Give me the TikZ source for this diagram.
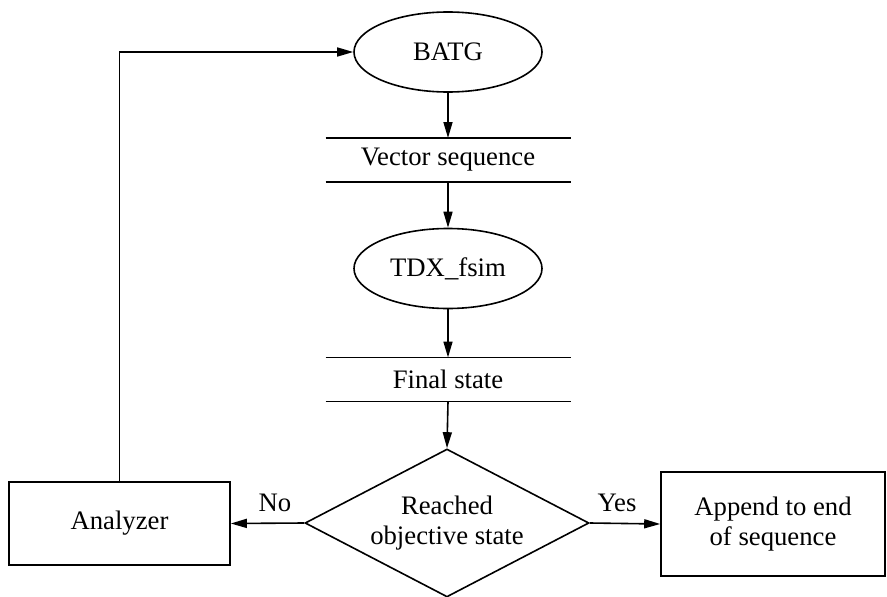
\documentclass[tikz,border=0pt]{standalone}
\usepackage{fontspec}
\setmainfont{Liberation Serif}
\usetikzlibrary{shapes.geometric,arrows.meta}
\begin{document}
\begin{tikzpicture}[x=1pt,y=-1pt,
  every node/.style={font=\fontsize{26.7}{30}\selectfont},
  proc/.style={ellipse,draw,line width=1.6pt,minimum width=188pt,minimum height=80pt,inner sep=0pt},
  store/.style={minimum width=245pt,minimum height=44pt,inner sep=0pt,outer sep=0pt},
  decide/.style={diamond,draw,line width=1.6pt,aspect=1.92,minimum width=284pt,minimum height=148pt,inner sep=0pt,align=center},
  box/.style={rectangle,draw,line width=1.6pt,inner sep=0pt,align=center},
  edge/.style={line width=1.6pt},
  flow/.style={line width=1.6pt,-{Triangle[length=16pt,width=9pt]}},
  lbl/.style={inner sep=0pt}]
\useasboundingbox (0,0) rectangle (887,597);
\node[proc] (batg) at (448,52) {BATG};
\node[store] (vec) at (448,160) {Vector sequence};
\node[proc] (tdx) at (448,268.5) {TDX\_fsim};
\node[store] (fin) at (448,379.5) {Final state};
\node[decide] (dec) at (447,523) {Reached\\objective state};
\node[box, minimum width=221pt, minimum height=83pt] (ana) at (119.5,523.5) {Analyzer};
\node[box, minimum width=224pt, minimum height=104pt] (app) at (773,524) {Append to end\\of sequence};
\draw[edge] (vec.north west) -- (vec.north east);
\draw[edge] (vec.south west) -- (vec.south east);
\draw[edge] (fin.north west) -- (fin.north east);
\draw[edge] (fin.south west) -- (fin.south east);
\draw[flow] (batg.south) -- (vec.north);
\draw[flow] (vec.south) -- (tdx.north);
\draw[flow] (tdx.south) -- (fin.north);
\draw[flow] (fin.south) -- (dec.north);
\draw[flow] (dec.west) -- (ana.east);
\draw[flow] (dec.east) -- (app.west);
\draw[flow] (ana.north) |- (batg.west);
\node[lbl] (no) at (275,503) {No};
\node[lbl] (yes) at (617,503) {Yes};
\end{tikzpicture}
\end{document}
